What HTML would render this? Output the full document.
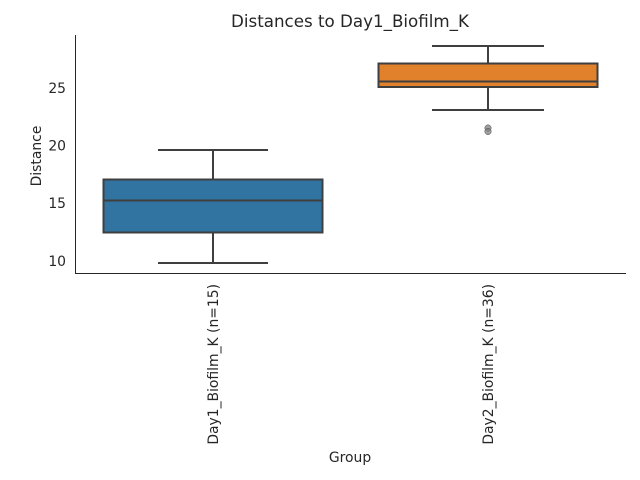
<!DOCTYPE html>
<html><head><style>body{margin:0;background:#fff}svg{display:block}text{font-family:"DejaVu Sans","Liberation Sans",sans-serif;fill:#262626}</style></head>
<body>
<svg width="640" height="480" xmlns="http://www.w3.org/2000/svg">
<rect width="640" height="480" fill="#fff"/>
<text x="350" y="27" font-size="16.7" text-anchor="middle">Distances to Day1_Biofilm_K</text>
<line x1="75.5" y1="35" x2="75.5" y2="273.5" stroke="#262626" stroke-width="1"/>
<line x1="75" y1="273.5" x2="626" y2="273.5" stroke="#262626" stroke-width="1"/>
<g font-size="13.9" text-anchor="end">
<text x="66" y="93">25</text>
<text x="66" y="150.5">20</text>
<text x="66" y="208">15</text>
<text x="66" y="266">10</text>
</g>
<text transform="translate(41,156) rotate(-90)" font-size="13.9" text-anchor="middle">Distance</text>
<text x="350" y="462" font-size="13.9" text-anchor="middle">Group</text>
<text transform="translate(218,284) rotate(-90)" font-size="13.9" text-anchor="end">Day1_Biofilm_K (n=15)</text>
<text transform="translate(493,284) rotate(-90)" font-size="13.9" text-anchor="end">Day2_Biofilm_K (n=36)</text>
<g stroke="#3f3f3f" stroke-width="2" fill="none">
<line x1="213" y1="150" x2="213" y2="179"/>
<line x1="213" y1="233" x2="213" y2="263"/>
<line x1="158" y1="150" x2="268" y2="150"/>
<line x1="158" y1="263" x2="268" y2="263"/>
<rect x="103.5" y="179.5" width="219" height="53" fill="#3274a1"/>
<line x1="103.5" y1="200.5" x2="322.5" y2="200.5"/>
<line x1="488" y1="46" x2="488" y2="63"/>
<line x1="488" y1="87" x2="488" y2="110"/>
<line x1="432" y1="46" x2="544" y2="46"/>
<line x1="432" y1="110" x2="544" y2="110"/>
<rect x="378.5" y="63.5" width="219" height="23.5" fill="#e1812c"/>
<line x1="378.5" y1="81.5" x2="597.5" y2="81.5"/>
</g>
<circle cx="488" cy="128" r="3.2" fill="#7f7f7f" fill-opacity="0.75" stroke="#4a4a4a" stroke-width="0.5"/>
<circle cx="488" cy="131.5" r="3.2" fill="#7f7f7f" fill-opacity="0.75" stroke="#4a4a4a" stroke-width="0.5"/>
</svg>
</body></html>
